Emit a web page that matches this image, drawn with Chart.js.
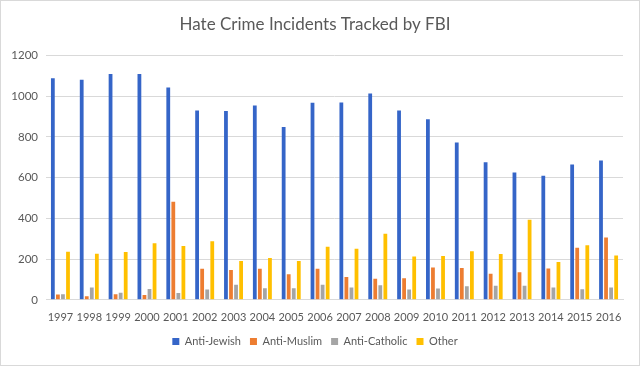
<!DOCTYPE html>
<html>
<head>
<meta charset="utf-8">
<script src="https://cdn.jsdelivr.net/npm/chart.js@4"></script>
<style>
  html, body { margin: 0; padding: 0; background: #fff; }
  #wrap { position: relative; width: 638px; height: 364px; border: 1px solid #d9d9d9; }
</style>
</head>
<body>
<div id="wrap"><canvas id="chart"></canvas></div>
<script>
// values
const years = ['1997', '1998', '1999', '2000', '2001', '2002', '2003', '2004', '2005', '2006',
  '2007', '2008', '2009', '2010', '2011', '2012', '2013', '2014', '2015', '2016'];
const antiJewish = [1088, 1081, 1109, 1109, 1043, 930, 927, 954, 849, 967,
  969, 1013, 930, 887, 772, 675, 625, 609, 664, 684];
const antiMuslim = [26, 18, 27, 24, 481, 153, 146, 153, 125, 153,
  112, 103, 106, 159, 156, 128, 135, 154, 256, 306];
const antiCatholic = [27, 60, 35, 53, 34, 51, 74, 57, 57, 74,
  60, 71, 50, 56, 66, 69, 69, 61, 52, 60];
const other = [236, 226, 235, 278, 264, 288, 191, 205, 191, 261,
  251, 324, 212, 215, 238, 225, 393, 185, 268, 218];

const textColor = '#595959';
const fontFamily = 'Lato, "Open Sans", sans-serif';

const barConfig = {
  type: 'bar',
  data: {
    labels: years,
    datasets: [
      { label: 'Anti-Jewish', data: antiJewish, backgroundColor: '#3565c8' },
      { label: 'Anti-Muslim', data: antiMuslim, backgroundColor: '#ed7d31' },
      { label: 'Anti-Catholic', data: antiCatholic, backgroundColor: '#a5a5a5' },
      { label: 'Other', data: other, backgroundColor: '#ffc000' },
    ],
  },
  options: {
    responsive: true,
    maintainAspectRatio: false,
    animation: false,
    layout: { padding: { left: 6, right: 16, top: 4, bottom: 8 } },
    datasets: {
      bar: { categoryPercentage: 0.7, barPercentage: 0.75 },
    },
    plugins: {
      title: {
        display: true,
        text: 'Hate Crime Incidents Tracked by FBI',
        color: textColor,
        font: { family: fontFamily, size: 17, weight: 'normal' },
        padding: { top: 9, bottom: 21 },
      },
      legend: {
        position: 'bottom',
        labels: {
          color: textColor,
          font: { family: fontFamily, size: 11 },
          boxWidth: 7,
          boxHeight: 7,
          padding: 9,
        },
      },
      tooltip: { enabled: false },
    },
    scales: {
      x: {
        grid: { display: false },
        border: { display: true, color: '#d9d9d9' },
        ticks: { color: textColor, font: { family: fontFamily, size: 11 }, maxRotation: 0, autoSkip: false, padding: 3 },
      },
      y: {
        min: 0,
        max: 1200,
        afterFit: (scale) => { scale.width = 39; },
        ticks: {
          stepSize: 200,
          color: textColor,
          font: { family: fontFamily, size: 11.5 },
          padding: 8,
          callback: (v) => String(v),
        },
        grid: { color: '#d9d9d9', drawTicks: false },
        border: { display: false },
      },
    },
  },
};

const ctx = document.getElementById('chart');
window.myBar = new Chart(ctx, barConfig);
</script>
</body>
</html>
